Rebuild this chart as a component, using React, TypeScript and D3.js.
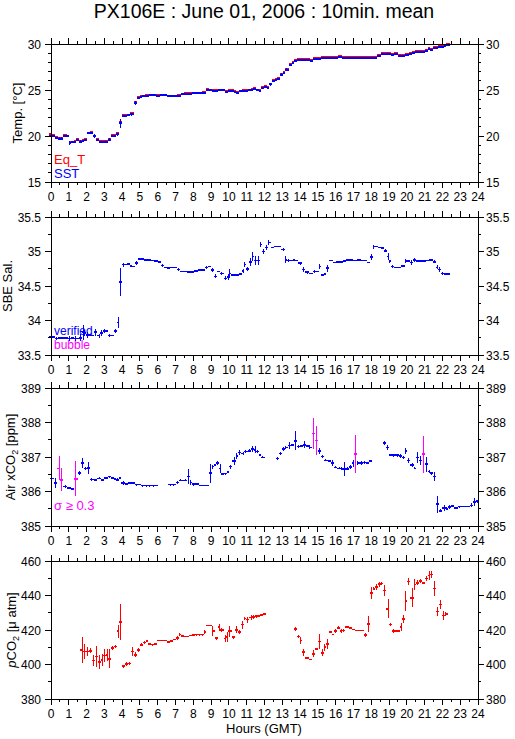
import React from 'react';
import * as d3 from 'd3';

// [hour, value, sd]
type Pt = [number, number, number];

const hourTicks = d3.range(0, 25);

const eqT: Pt[] = [
  [0.0, 20.2, 0], [0.15, 20.1, 0], [0.3, 19.9, 0], [0.45, 19.8, 0], [0.6, 19.8, 0], [0.8, 20.1, 0], [0.95, 20.0, 0],
  [1.05, 19.35, 0], [1.2, 19.4, 0], [1.35, 19.45, 0], [1.5, 19.65, 0], [1.65, 19.5, 0], [1.8, 19.55, 0], [1.95, 19.7, 0],
  [2.1, 20.35, 0], [2.25, 20.4, 0], [2.45, 20.05, 0], [2.6, 19.65, 0], [2.75, 19.5, 0], [2.85, 19.45, 0], [3.0, 19.45, 0],
  [3.15, 19.5, 0], [3.3, 19.7, 0], [3.45, 20.15, 0], [3.6, 20.15, 0], [3.75, 20.3, 0], [3.9, 21.5, 0], [4.05, 22.25, 0],
  [4.2, 22.25, 0], [4.35, 22.3, 0], [4.55, 22.45, 0], [4.75, 23.7, 0], [4.9, 24.2, 0], [5.05, 24.3, 0], [5.2, 24.4, 0],
  [5.4, 24.5, 0], [5.6, 24.5, 0], [5.8, 24.5, 0], [6.0, 24.45, 0], [6.2, 24.5, 0], [6.4, 24.5, 0], [6.6, 24.4, 0],
  [6.8, 24.4, 0], [7.0, 24.4, 0], [7.2, 24.45, 0], [7.4, 24.6, 0], [7.6, 24.65, 0], [7.8, 24.65, 0], [8.0, 24.7, 0],
  [8.2, 24.7, 0], [8.4, 24.7, 0], [8.6, 24.75, 0], [8.8, 25.1, 0], [9.0, 25.05, 0], [9.15, 24.95, 0], [9.3, 25.0, 0],
  [9.5, 25.0, 0], [9.7, 25.0, 0], [9.9, 24.9, 0], [10.05, 24.95, 0], [10.2, 25.0, 0], [10.35, 24.9, 0], [10.5, 24.8, 0],
  [10.65, 24.9, 0], [10.85, 24.95, 0], [11.0, 24.95, 0], [11.15, 25.05, 0], [11.3, 25.1, 0], [11.45, 25.2, 0],
  [11.6, 25.05, 0], [11.75, 25.0, 0], [11.9, 25.3, 0], [12.05, 25.4, 0], [12.2, 25.3, 0], [12.35, 25.7, 0],
  [12.5, 26.1, 0], [12.65, 26.15, 0], [12.8, 26.3, 0], [12.95, 26.75, 0], [13.1, 27.0, 0], [13.25, 27.3, 0],
  [13.45, 27.85, 0], [13.6, 28.05, 0], [13.75, 28.25, 0], [13.9, 28.35, 0], [14.1, 28.4, 0], [14.3, 28.35, 0],
  [14.5, 28.4, 0], [14.65, 28.3, 0], [14.85, 28.45, 0], [15.05, 28.45, 0], [15.25, 28.6, 0], [15.5, 28.6, 0],
  [15.75, 28.6, 0], [16.0, 28.6, 0], [16.25, 28.7, 0], [16.5, 28.6, 0], [16.75, 28.6, 0], [17.0, 28.6, 0],
  [17.25, 28.6, 0], [17.5, 28.55, 0], [17.75, 28.6, 0], [18.0, 28.6, 0], [18.25, 28.6, 0], [18.45, 28.85, 0],
  [18.6, 29.0, 0], [18.8, 29.0, 0], [19.0, 29.0, 0], [19.2, 28.95, 0], [19.4, 29.0, 0], [19.6, 28.85, 0],
  [19.8, 28.85, 0], [20.0, 28.9, 0], [20.2, 29.05, 0], [20.4, 29.15, 0], [20.55, 29.25, 0], [20.75, 29.25, 0],
  [20.95, 29.2, 0], [21.1, 29.35, 0], [21.25, 29.55, 0], [21.4, 29.45, 0], [21.55, 29.65, 0], [21.7, 29.7, 0],
  [21.85, 29.75, 0], [22.0, 29.8, 0], [22.15, 29.85, 0], [22.3, 29.95, 0],
];

const sst: Pt[] = [
  [0.0, 20.0, 0], [0.15, 20.0, 0], [0.3, 19.8, 0.1], [0.45, 19.7, 0.15], [0.6, 19.7, 0.15], [0.8, 20.0, 0], [0.95, 19.95, 0.05],
  [1.05, 19.25, 0.2], [1.2, 19.35, 0], [1.35, 19.35, 0], [1.5, 19.6, 0], [1.65, 19.4, 0.15], [1.8, 19.45, 0.15], [1.95, 19.6, 0],
  [2.1, 20.3, 0], [2.25, 20.3, 0.1], [2.45, 20.0, 0.2], [2.6, 19.55, 0], [2.75, 19.4, 0], [2.85, 19.35, 0.15], [3.0, 19.35, 0.15],
  [3.15, 19.4, 0], [3.3, 19.6, 0.15], [3.45, 20.05, 0], [3.6, 20.05, 0], [3.75, 20.2, 0.15], [3.9, 21.4, 0.5], [4.05, 22.2, 0],
  [4.2, 22.2, 0], [4.35, 22.25, 0], [4.55, 22.35, 0.15], [4.75, 23.6, 0.25], [4.9, 24.1, 0], [5.05, 24.2, 0], [5.2, 24.3, 0],
  [5.4, 24.4, 0], [5.6, 24.45, 0], [5.8, 24.45, 0], [6.0, 24.4, 0], [6.2, 24.45, 0], [6.4, 24.45, 0], [6.6, 24.35, 0],
  [6.8, 24.35, 0], [7.0, 24.35, 0], [7.2, 24.4, 0.05], [7.4, 24.55, 0], [7.6, 24.6, 0], [7.8, 24.6, 0], [8.0, 24.65, 0],
  [8.2, 24.65, 0], [8.4, 24.65, 0], [8.6, 24.7, 0], [8.8, 25.0, 0], [9.0, 24.95, 0], [9.15, 24.85, 0], [9.3, 24.9, 0],
  [9.5, 24.95, 0], [9.7, 24.95, 0], [9.9, 24.8, 0.1], [10.05, 24.85, 0.1], [10.2, 24.9, 0], [10.35, 24.8, 0], [10.5, 24.7, 0.05],
  [10.65, 24.85, 0], [10.85, 24.85, 0], [11.0, 24.85, 0.05], [11.15, 24.95, 0], [11.3, 25.0, 0], [11.45, 25.1, 0.1],
  [11.6, 24.95, 0], [11.75, 24.9, 0.1], [11.9, 25.2, 0.05], [12.05, 25.3, 0], [12.2, 25.2, 0.1], [12.35, 25.6, 0.15],
  [12.5, 25.95, 0.1], [12.65, 26.05, 0.05], [12.8, 26.2, 0], [12.95, 26.65, 0.15], [13.1, 26.9, 0], [13.25, 27.2, 0.15],
  [13.45, 27.75, 0.05], [13.6, 27.95, 0.1], [13.75, 28.1, 0], [13.9, 28.25, 0], [14.1, 28.3, 0], [14.3, 28.25, 0],
  [14.5, 28.3, 0], [14.65, 28.2, 0.05], [14.85, 28.35, 0], [15.05, 28.35, 0.1], [15.25, 28.5, 0], [15.5, 28.5, 0],
  [15.75, 28.5, 0], [16.0, 28.5, 0], [16.25, 28.55, 0], [16.5, 28.5, 0], [16.75, 28.5, 0], [17.0, 28.5, 0],
  [17.25, 28.5, 0], [17.5, 28.45, 0.05], [17.75, 28.5, 0], [18.0, 28.45, 0.05], [18.25, 28.5, 0], [18.45, 28.75, 0.1],
  [18.6, 28.9, 0], [18.8, 28.9, 0], [19.0, 28.9, 0], [19.2, 28.85, 0], [19.4, 28.9, 0], [19.6, 28.75, 0],
  [19.8, 28.75, 0], [20.0, 28.8, 0.05], [20.2, 28.95, 0.1], [20.4, 29.05, 0.1], [20.55, 29.15, 0], [20.75, 29.15, 0],
  [20.95, 29.1, 0.05], [21.1, 29.25, 0], [21.25, 29.45, 0], [21.4, 29.35, 0.05], [21.55, 29.55, 0.1], [21.7, 29.6, 0],
  [21.85, 29.65, 0], [22.0, 29.7, 0], [22.15, 29.75, 0], [22.3, 29.85, 0],
];

const salinity: Pt[] = [
  [0.0, 33.76, 0], [0.15, 33.76, 0], [0.3, 33.74, 0.02], [0.45, 33.75, 0], [0.6, 33.75, 0], [0.75, 33.75, 0], [0.9, 33.75, 0],
  [1.05, 33.74, 0.03], [1.2, 33.75, 0], [1.35, 33.74, 0.04], [1.5, 33.74, 0], [1.65, 33.75, 0.05], [1.8, 33.83, 0.11],
  [1.9, 33.82, 0.04], [2.05, 33.79, 0.04], [2.2, 33.79, 0], [2.35, 33.78, 0], [2.5, 33.83, 0.05], [2.7, 33.78, 0.03],
  [2.85, 33.82, 0.04], [3.0, 33.85, 0.03], [3.15, 33.85, 0], [3.3, 33.78, 0.02], [3.45, 33.78, 0], [3.6, 33.85, 0.03],
  [3.8, 33.97, 0.08], [3.9, 34.56, 0.2], [4.05, 34.81, 0.03], [4.2, 34.81, 0], [4.35, 34.82, 0], [4.5, 34.79, 0],
  [4.65, 34.78, 0], [4.8, 34.83, 0.03], [4.95, 34.89, 0], [5.1, 34.89, 0], [5.3, 34.88, 0], [5.5, 34.88, 0], [5.7, 34.87, 0],
  [5.9, 34.86, 0], [6.1, 34.85, 0], [6.25, 34.8, 0.02], [6.4, 34.77, 0], [6.6, 34.76, 0], [6.8, 34.77, 0], [7.0, 34.77, 0],
  [7.15, 34.74, 0.02], [7.35, 34.71, 0], [7.55, 34.71, 0], [7.75, 34.7, 0], [7.95, 34.7, 0], [8.15, 34.72, 0],
  [8.35, 34.73, 0], [8.55, 34.73, 0], [8.75, 34.77, 0.02], [8.9, 34.78, 0], [9.05, 34.73, 0.03], [9.25, 34.64, 0.03],
  [9.45, 34.71, 0], [9.6, 34.68, 0.02], [9.8, 34.61, 0.03], [9.95, 34.63, 0.04], [10.05, 34.68, 0.07], [10.2, 34.66, 0.02],
  [10.35, 34.66, 0], [10.5, 34.66, 0], [10.65, 34.67, 0], [10.8, 34.72, 0.03], [10.9, 34.81, 0.04], [11.05, 34.75, 0.03],
  [11.2, 34.85, 0.06], [11.35, 34.93, 0.07], [11.5, 34.87, 0.06], [11.65, 34.87, 0.06], [11.8, 35.1, 0.04],
  [11.95, 35.0, 0.03], [12.1, 35.06, 0.04], [12.25, 35.13, 0.03], [12.45, 35.06, 0], [12.65, 35.07, 0], [12.85, 35.07, 0],
  [13.05, 35.03, 0.02], [13.2, 34.88, 0.05], [13.35, 34.87, 0.02], [13.5, 34.87, 0], [13.65, 34.88, 0], [13.8, 34.87, 0],
  [14.0, 34.83, 0.02], [14.2, 34.74, 0.03], [14.4, 34.7, 0.02], [14.6, 34.68, 0], [14.8, 34.71, 0.02], [15.0, 34.71, 0],
  [15.1, 34.78, 0.04], [15.25, 34.66, 0.02], [15.4, 34.67, 0], [15.55, 34.76, 0.05], [15.75, 34.87, 0], [15.9, 34.84, 0],
  [16.1, 34.85, 0], [16.3, 34.85, 0], [16.5, 34.86, 0], [16.7, 34.88, 0], [16.9, 34.88, 0], [17.1, 34.87, 0],
  [17.3, 34.88, 0], [17.5, 34.87, 0], [17.7, 34.87, 0], [17.85, 34.84, 0], [18.0, 34.92, 0.05], [18.15, 35.07, 0.03],
  [18.3, 35.07, 0], [18.5, 35.06, 0], [18.65, 35.05, 0], [18.8, 35.01, 0.02], [18.95, 34.93, 0.05], [19.05, 34.86, 0.02],
  [19.2, 34.78, 0.02], [19.4, 34.77, 0], [19.6, 34.77, 0], [19.8, 34.79, 0.02], [19.95, 34.86, 0.03], [20.1, 34.86, 0],
  [20.25, 34.84, 0.03], [20.45, 34.88, 0.03], [20.6, 34.86, 0], [20.8, 34.86, 0], [21.0, 34.86, 0], [21.15, 34.87, 0],
  [21.35, 34.88, 0], [21.55, 34.85, 0.02], [21.7, 34.77, 0.03], [21.85, 34.74, 0.03], [22.0, 34.68, 0.02],
  [22.15, 34.67, 0], [22.3, 34.67, 0],
];

const airXco2: Pt[] = [
  [0.05, 386.38, 0.14], [0.25, 386.24, 0.14], [0.45, 386.67, 0.35], [0.6, 386.34, 0.33], [0.8, 386.15, 0.04],
  [1.0, 386.1, 0.03], [1.2, 386.08, 0.03], [1.4, 386.37, 0.5], [1.6, 386.53, 0.05], [1.75, 386.82, 0.14],
  [1.95, 386.67, 0.05], [2.1, 386.68, 0.17], [2.3, 386.35, 0.05], [2.5, 386.34, 0.03], [2.7, 386.38, 0.03],
  [2.9, 386.34, 0.03], [3.1, 386.39, 0.03], [3.3, 386.43, 0.03], [3.45, 386.4, 0.03], [3.6, 386.37, 0.03],
  [3.75, 386.34, 0.05], [3.85, 386.4, 0.03], [4.05, 386.24, 0.05], [4.25, 386.21, 0.03], [4.45, 386.24, 0.03],
  [4.6, 386.24, 0.03], [4.8, 386.2, 0.03], [4.95, 386.2, 0.02], [5.15, 386.17, 0.03], [5.35, 386.17, 0.03],
  [5.55, 386.17, 0.03], [5.75, 386.17, 0.03], [5.9, 386.17, 0.02],
  [6.7, 386.2, 0.03], [6.9, 386.2, 0.03], [7.1, 386.26, 0.03], [7.3, 386.32, 0.03], [7.55, 386.32, 0.03],
  [7.75, 386.43, 0.22], [7.85, 386.26, 0.08], [8.0, 386.21, 0.05], [8.2, 386.21, 0.03], [8.4, 386.17, 0.02],
  [8.6, 386.17, 0.02], [8.8, 386.17, 0.02], [8.95, 386.53, 0.28], [9.1, 386.72, 0.06], [9.2, 386.77, 0.04],
  [9.35, 386.82, 0.06], [9.5, 386.67, 0.14], [9.6, 386.5, 0.03], [9.8, 386.52, 0.03], [9.95, 386.56, 0.03],
  [10.1, 386.72, 0.06], [10.3, 386.88, 0.12], [10.45, 387.03, 0.1], [10.6, 387.13, 0.08], [10.8, 387.1, 0.05],
  [10.95, 387.16, 0.05], [11.15, 387.18, 0.04], [11.3, 387.23, 0.08], [11.5, 387.21, 0.1], [11.6, 387.16, 0.04],
  [11.75, 387.06, 0.04], [11.9, 386.99, 0.03],
  [12.75, 386.96, 0.04], [12.9, 387.1, 0.05], [13.05, 387.23, 0.06], [13.2, 387.28, 0.05], [13.4, 387.33, 0.1],
  [13.55, 387.35, 0.04], [13.75, 387.47, 0.28], [13.9, 387.3, 0.04], [14.05, 387.32, 0.04], [14.25, 387.35, 0.1],
  [14.4, 387.32, 0.04], [14.55, 387.28, 0.06], [14.75, 387.68, 0.44], [14.95, 387.48, 0.42], [15.1, 387.17, 0.08],
  [15.25, 387.02, 0.04], [15.45, 386.9, 0.03], [15.65, 386.88, 0.03], [15.8, 386.82, 0.08], [16.0, 386.7, 0.03],
  [16.2, 386.67, 0.03], [16.35, 386.66, 0.04], [16.5, 386.66, 0.2], [16.65, 386.66, 0.04], [16.85, 386.71, 0.06],
  [17.0, 386.82, 0.1], [17.1, 387.08, 0.55], [17.25, 386.82, 0.05], [17.45, 386.82, 0.05], [17.6, 386.84, 0.03],
  [17.8, 386.82, 0.03], [17.95, 386.88, 0.03],
  [18.75, 387.41, 0.06], [18.9, 387.27, 0.08], [19.05, 387.06, 0.04], [19.25, 387.05, 0.04], [19.45, 387.05, 0.04],
  [19.65, 387.03, 0.05], [19.8, 386.99, 0.05], [19.95, 387.18, 0.08], [20.1, 386.9, 0.06], [20.3, 386.77, 0.05],
  [20.45, 386.67, 0.03], [20.6, 386.99, 0.16], [20.75, 386.9, 0.12], [20.95, 387.08, 0.54], [21.1, 386.79, 0.22],
  [21.25, 386.58, 0.03], [21.4, 386.53, 0.04], [21.55, 386.43, 0.14], [21.75, 385.63, 0.25], [21.9, 385.44, 0.04],
  [22.1, 385.52, 0.08], [22.25, 385.5, 0.04], [22.4, 385.55, 0.05], [22.6, 385.58, 0.04], [22.75, 385.52, 0.04],
  [22.95, 385.56, 0.03], [23.1, 385.56, 0.02], [23.3, 385.56, 0.02], [23.45, 385.56, 0.02], [23.65, 385.6, 0.06],
  [23.8, 385.69, 0.12], [23.95, 385.72, 0.04],
];

const pco2: Pt[] = [
  [1.75, 408.5, 7.5], [1.9, 407.5, 4.5], [2.05, 407.5, 2.5], [2.2, 408, 1.5], [2.4, 402.3, 3], [2.55, 404.6, 6.3],
  [2.7, 401.3, 4], [2.9, 402.7, 3.5], [3.0, 405.2, 3.5], [3.15, 405.6, 3.3], [3.3, 403.3, 5.5], [3.45, 409.6, 1],
  [3.6, 410.4, 1], [3.8, 419.3, 3.7], [3.9, 424.5, 10.5], [4.05, 399, 1], [4.25, 400.4, 1], [4.4, 400.6, 1],
  [4.6, 407.5, 2.8], [4.75, 405.6, 1.5], [4.9, 408.5, 1], [5.1, 411.4, 0.8], [5.25, 412.7, 0.8], [5.4, 413.5, 0.5],
  [5.55, 411.9, 0.5], [5.7, 411.5, 0.5], [5.85, 411.9, 0.5], [6.05, 413.9, 0.5], [6.25, 413.9, 0.5], [6.4, 413.9, 0.5],
  [6.6, 413.1, 0.5], [6.75, 413.5, 0.5], [6.95, 414.5, 0.5], [7.1, 415.4, 1], [7.25, 417.3, 1], [7.4, 416.6, 0.5],
  [7.55, 416.2, 0.5], [7.7, 416.2, 0.5], [7.85, 416.8, 0.5], [8.0, 417.2, 0.5], [8.2, 417.3, 0.5], [8.35, 417.3, 0.5],
  [8.5, 417.3, 0.5], [8.65, 418.9, 1], [8.8, 422.6, 0.5], [8.95, 422.6, 0.5], [9.1, 419.3, 3], [9.3, 415.2, 1],
  [9.45, 421.6, 2], [9.6, 420.1, 1], [9.8, 415, 2], [9.9, 415.8, 3], [10.05, 419.3, 3.3], [10.25, 415.8, 1],
  [10.4, 420.1, 2], [10.6, 418.8, 1], [10.75, 423.1, 2.3], [10.9, 426.6, 1], [11.05, 426, 1.8], [11.25, 427.2, 1.5],
  [11.4, 427.6, 1], [11.55, 428, 0.8], [11.7, 428, 0.5], [11.85, 428.6, 0.5], [11.95, 429.2, 0.5],
  [13.75, 420.7, 1], [13.9, 416.3, 1], [14.05, 414, 2.2], [14.2, 407.2, 2], [14.4, 403.9, 0.5], [14.55, 402.9, 0.5],
  [14.75, 406.2, 2], [14.95, 409.1, 0.5], [15.1, 413.4, 4.4], [15.25, 406.8, 2], [15.4, 410.1, 2], [15.55, 412, 3],
  [15.7, 418.8, 0.5], [15.85, 417.4, 0.5], [16.0, 419.3, 1], [16.15, 421.3, 1], [16.3, 419.3, 1], [16.45, 419.7, 1],
  [16.65, 421.6, 0.5], [16.85, 421.3, 0.5], [17.0, 420.3, 0.5], [17.15, 419.7, 0.5], [17.35, 419.7, 0.5],
  [17.5, 419.7, 0.5], [17.7, 417.2, 1], [17.85, 423.6, 4.8], [18.0, 441.4, 3.4], [18.15, 443.9, 1], [18.3, 444.9, 1.5],
  [18.45, 446.5, 1.5], [18.6, 446.9, 1], [18.75, 443, 3.2], [18.95, 432.3, 5.5], [19.1, 423.2, 1], [19.25, 419.3, 1],
  [19.4, 419.3, 0.5], [19.55, 419.3, 0.5], [19.7, 421.6, 2.4], [19.8, 426.5, 2.2], [19.95, 436.8, 6], [20.1, 448.2, 2],
  [20.3, 438.7, 5.4], [20.45, 446.3, 3.3], [20.6, 447.3, 1.5], [20.75, 448.4, 1], [20.9, 447.4, 0.5],
  [21.1, 449.8, 1.5], [21.25, 451.7, 2.7], [21.4, 452.1, 2.2], [21.55, 444, 4.5], [21.7, 430.8, 2.5],
  [21.9, 434.8, 2.5], [22.05, 428.5, 2.5], [22.2, 429.2, 1],
];

const tempTicks = [15, 20, 25, 30];
const salTicks = [33.5, 34, 34.5, 35, 35.5];
const airTicks = [385, 386, 387, 388, 389];
const pco2Ticks = [380, 400, 420, 440, 460];

const FONT = '"Liberation Sans", Arial, Helvetica, sans-serif';
const BLUE = '#0000ff';
const RED = '#ff0000';
const MAGENTA = '#ff00ff';

const PLOT_L = 51;
const PLOT_R = 478;
const PLOT_H = 138;
const x = d3.scaleLinear().domain([0, 24]).range([PLOT_L, PLOT_R]);

interface MarksProps {
  data: Pt[];
  y: d3.ScaleLinear<number, number>;
  color: (d: Pt) => string;
  cap: number;
  width: number;
}

// each 10-min mean: horizontal bar over its interval, vertical bar for +/- sd
const Marks: React.FC<MarksProps> = ({ data, y, color, cap, width }) => (
  <g shapeRendering="crispEdges">
    {data.map((d, i) => {
      const [h, v, s] = d;
      const prev = data[i - 1];
      const next = data[i + 1];
      const lh = prev ? Math.min((h - prev[0]) / 2, cap) : cap;
      const rh = next ? Math.min((next[0] - h) / 2, cap) : cap;
      const c = color(d);
      return (
        <g key={i}>
          <line x1={x(h - lh)} x2={x(h + rh)} y1={y(v)} y2={y(v)} stroke={c} strokeWidth={width} />
          {s > 0 && (
            <line x1={x(h)} x2={x(h)} y1={y(v - s)} y2={y(v + s)} stroke={c} strokeWidth={1} />
          )}
        </g>
      );
    })}
  </g>
);

interface PanelProps {
  top: number;
  domain: [number, number];
  ticks: number[];
  minor: number;
  children?: React.ReactNode;
  render: (y: d3.ScaleLinear<number, number>) => React.ReactNode;
}

const Panel: React.FC<PanelProps> = ({ top, domain, ticks, minor, children, render }) => {
  const y = d3.scaleLinear().domain(domain).range([top + PLOT_H, top]);
  const bottom = top + PLOT_H;
  const n = Math.round((domain[1] - domain[0]) / minor);
  const yMinor = d3.range(n + 1).map((i) => domain[0] + i * minor);
  const xMinor = d3.range(49).map((i) => i * 0.5);
  const isMajorY = (v: number) => ticks.some((t) => Math.abs(t - v) < 1e-6);
  return (
    <g>
      {children}
      {render(y)}
      <g stroke="#000" strokeWidth={1} shapeRendering="crispEdges">
        <rect x={PLOT_L} y={top} width={PLOT_R - PLOT_L} height={PLOT_H} fill="none" />
        {xMinor.map((h) => {
          const len = h % 1 === 0 ? 6 : 3;
          return (
            <g key={'x' + h}>
              <line x1={x(h)} x2={x(h)} y1={top} y2={top - len} />
              <line x1={x(h)} x2={x(h)} y1={bottom} y2={bottom + len} />
            </g>
          );
        })}
        {yMinor.map((v) => {
          const len = isMajorY(v) ? 6 : 3;
          return (
            <g key={'y' + v}>
              <line x1={PLOT_L} x2={PLOT_L - len} y1={y(v)} y2={y(v)} />
              <line x1={PLOT_R} x2={PLOT_R + len} y1={y(v)} y2={y(v)} />
            </g>
          );
        })}
      </g>
      <g fontFamily={FONT} fontSize={12} fill="#000">
        {ticks.map((t) => (
          <g key={'l' + t}>
            <text x={PLOT_L - 10} y={y(t) + 4.5} textAnchor="end">{String(t)}</text>
            <text x={PLOT_R + 8} y={y(t) + 4.5} textAnchor="start">{String(t)}</text>
          </g>
        ))}
        {hourTicks.map((h) => (
          <text key={'h' + h} x={x(h)} y={bottom + 19} textAnchor="middle">{h}</text>
        ))}
      </g>
    </g>
  );
};

const YLabel: React.FC<{ x: number; cy: number; children: React.ReactNode }> = ({ x: lx, cy, children }) => (
  <text
    transform={`translate(${lx},${cy}) rotate(-90)`}
    textAnchor="middle"
    fontFamily={FONT}
    fontSize={13}
    fill="#000"
  >
    {children}
  </text>
);

const tops = [44, 217, 388, 561];

export default function App() {
  return (
    <svg width={515} height={739} style={{ position: 'absolute', left: 0, top: 0, background: '#fff' }}>
      <rect width={515} height={739} fill="#fff" />
      <text x={264} y={18} textAnchor="middle" fontFamily={FONT} fontSize={19.5} fill="#000">
        PX106E : June 01, 2006 : 10min. mean
      </text>

      <Panel
        top={tops[0]}
        domain={[15, 30]}
        ticks={tempTicks}
        minor={1}
        render={(y) => (
          <>
            <Marks data={eqT} y={y} color={() => RED} cap={0.13} width={2} />
            <Marks data={sst} y={y} color={() => BLUE} cap={0.13} width={2} />
          </>
        )}
      >
        <YLabel x={22} cy={113}>Temp. [°C]</YLabel>
        <text x={54} y={164} fontFamily={FONT} fontSize={13} fill={RED}>Eq_T</text>
        <text x={54} y={178} fontFamily={FONT} fontSize={13} fill={BLUE}>SST</text>
      </Panel>

      <Panel
        top={tops[1]}
        domain={[33.5, 35.5]}
        ticks={salTicks}
        minor={0.25}
        render={(y) => <Marks data={salinity} y={y} color={() => BLUE} cap={0.13} width={1.6} />}
      >
        <YLabel x={12} cy={286}>SBE Sal.</YLabel>
        <text x={54} y={335} fontFamily={FONT} fontSize={12} fill={BLUE}>verified</text>
        <text x={54} y={349} fontFamily={FONT} fontSize={12} fill={MAGENTA}>bubble</text>
      </Panel>

      <Panel
        top={tops[2]}
        domain={[385, 389]}
        ticks={airTicks}
        minor={0.5}
        render={(y) => (
          <Marks data={airXco2} y={y} color={(d) => (d[2] >= 0.3 ? MAGENTA : BLUE)} cap={0.11} width={1.6} />
        )}
      >
        <YLabel x={15} cy={457}>
          Air xCO<tspan fontSize={9} dy={3}>2</tspan><tspan dy={-3}> [ppm]</tspan>
        </YLabel>
        <text x={54} y={510} fontFamily={FONT} fontSize={13} fill={MAGENTA}>σ ≥ 0.3</text>
      </Panel>

      <Panel
        top={tops[3]}
        domain={[380, 460]}
        ticks={pco2Ticks}
        minor={10}
        render={(y) => <Marks data={pco2} y={y} color={() => RED} cap={0.11} width={1.6} />}
      >
        <YLabel x={16} cy={630}>
          <tspan fontStyle="italic">p</tspan>CO<tspan fontSize={9} dy={3}>2</tspan><tspan dy={-3}> [μ atm]</tspan>
        </YLabel>
      </Panel>

      <text x={264} y={733} textAnchor="middle" fontFamily={FONT} fontSize={13} fill="#000">
        Hours (GMT)
      </text>
    </svg>
  );
}
